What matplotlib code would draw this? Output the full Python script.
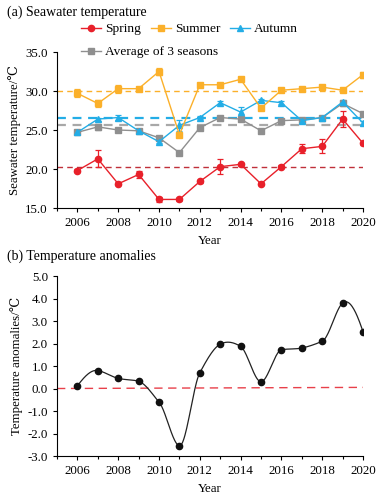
import numpy as np
import matplotlib
matplotlib.use('Agg')
import matplotlib.pyplot as plt
from matplotlib.lines import Line2D
from matplotlib.ticker import MultipleLocator, FormatStrFormatter

plt.rcParams['font.family'] = ['Liberation Serif', 'DejaVu Serif', 'Noto Sans CJK SC']
plt.rcParams['font.size'] = 9.3

# ── Data ──────────────────────────────────────────────────────────────────────
years = np.arange(2006, 2021)

spring = [19.8, 21.3, 18.1, 19.3, 16.1, 16.1, 18.4, 20.3, 20.6, 18.1, 20.3, 22.6, 22.9, 26.4, 23.3]
spring_err = [0.2, 1.1, 0.2, 0.5, 0.3, 0.2, 0.2, 1.0, 0.2, 0.2, 0.2, 0.6, 0.9, 1.0, 0.2]
summer = [29.7, 28.4, 30.3, 30.3, 32.5, 24.4, 30.8, 30.8, 31.5, 27.8, 30.1, 30.3, 30.5, 30.1, 32.1]
summer_err = [0.5, 0.4, 0.5, 0.2, 0.5, 0.3, 0.2, 0.2, 0.2, 0.2, 0.2, 0.2, 0.2, 0.2, 0.4]
autumn = [24.7, 26.4, 26.6, 24.9, 23.5, 25.6, 26.6, 28.5, 27.3, 28.8, 28.5, 26.2, 26.6, 28.6, 25.9]
autumn_err = [0.2, 0.2, 0.3, 0.2, 0.2, 0.7, 0.2, 0.2, 0.7, 0.2, 0.2, 0.2, 0.2, 0.3, 0.2]
average = [24.7, 25.4, 25.0, 24.9, 24.0, 22.1, 25.3, 26.6, 26.4, 24.9, 26.2, 26.3, 26.6, 28.4, 27.1]
average_err = [0.2, 0.4, 0.2, 0.2, 0.2, 0.2, 0.2, 0.2, 0.2, 0.2, 0.2, 0.2, 0.2, 0.3, 0.2]

means = {'spring': 20.3, 'summer': 30.0, 'autumn': 26.6, 'average': 25.6}

anomaly = [0.12, 0.8, 0.45, 0.32, -0.6, -2.55, 0.7, 1.97, 1.87, 0.3, 1.72, 1.8, 2.1, 3.8, 2.52]

c_spring = '#e8202a'
c_summer = '#fbb02a'
c_autumn = '#23ade6'
c_avg = '#8f8f8f'


def akima_curve(x, y, n=500):
    # Akima spline, only for drawing the smoothed connecting line
    x = np.asarray(x, float)
    y = np.asarray(y, float)
    m = np.diff(y) / np.diff(x)
    mm = np.concatenate([[3 * m[0] - 2 * m[1], 2 * m[0] - m[1]], m,
                         [2 * m[-1] - m[-2], 3 * m[-1] - 2 * m[-2]]])
    t = np.zeros(len(x))
    for i in range(len(x)):
        m0, m1, m2, m3 = mm[i], mm[i + 1], mm[i + 2], mm[i + 3]
        w1, w2 = abs(m3 - m2), abs(m1 - m0)
        t[i] = (m1 + m2) / 2 if w1 + w2 == 0 else (w1 * m1 + w2 * m2) / (w1 + w2)
    xs = np.linspace(x[0], x[-1], n)
    idx = np.clip(np.searchsorted(x, xs) - 1, 0, len(x) - 2)
    h = x[idx + 1] - x[idx]
    s = (xs - x[idx]) / h
    h00 = 2 * s**3 - 3 * s**2 + 1
    h10 = s**3 - 2 * s**2 + s
    h01 = -2 * s**3 + 3 * s**2
    h11 = s**3 - s**2
    ys = h00 * y[idx] + h10 * h * t[idx] + h01 * y[idx + 1] + h11 * h * t[idx + 1]
    return xs, ys


fig = plt.figure(figsize=(3.87, 5.01), dpi=100)
ax1 = fig.add_axes([0.1473, 0.5848, 0.7907, 0.3114])
ax2 = fig.add_axes([0.1473, 0.0898, 0.7907, 0.3593])

# ── (a) Seawater temperature ────────────────────────────────────────────────
ax1.hlines(means['summer'], 2005, 2020, colors=c_summer, linestyles=(0, (4, 3)), lw=1.0)
ax1.hlines(means['autumn'], 2005, 2020, colors=c_autumn, linestyles=(0, (4, 3)), lw=1.6)
ax1.hlines(means['average'], 2005, 2020, colors='#a8a8a8', linestyles=(0, (4, 3)), lw=1.6)
ax1.hlines(means['spring'], 2005, 2020, colors='#c0303a', linestyles=(0, (4, 3)), lw=1.0)

kw = dict(lw=1.0, ms=4.5, capsize=2, elinewidth=0.9, capthick=0.9)
ax1.errorbar(years, average, yerr=average_err, color=c_avg, marker='s', **kw)
ax1.errorbar(years, autumn, yerr=autumn_err, color=c_autumn, marker='^', **kw)
ax1.errorbar(years, summer, yerr=summer_err, color=c_summer, marker='s', **kw)
ax1.errorbar(years, spring, yerr=spring_err, color=c_spring, marker='o', **kw)

ax1.set_xlim(2005, 2020)
ax1.set_ylim(15, 35)
ax1.yaxis.set_major_locator(MultipleLocator(5))
ax1.yaxis.set_major_formatter(FormatStrFormatter('%.1f'))
ax1.set_ylabel('Seawater temperature/℃', labelpad=3)
ax1.set_xlabel('Year', labelpad=4)
fig.text(7 / 387, 1 - 12 / 501, '(a) Seawater temperature', fontsize=10, va='center')

def proxy(color, marker):
    return Line2D([], [], color=color, marker=marker, lw=1.0, ms=4.5)

leg_kw = dict(frameon=False, handlelength=1.5, handletextpad=0.3, fontsize=9.6,
              borderpad=0, borderaxespad=0, loc='center left')
leg1 = fig.legend([proxy(c_spring, 'o'), proxy(c_summer, 's'), proxy(c_autumn, '^')],
                  ['Spring', 'Summer', 'Autumn'], ncol=3, columnspacing=0.75,
                  bbox_to_anchor=(81 / 387, 1 - 29 / 501), **leg_kw)
leg2 = fig.legend([proxy(c_avg, 's')], ['Average of 3 seasons'],
                  bbox_to_anchor=(81 / 387, 1 - 52 / 501), **leg_kw)

# ── (b) Temperature anomalies ───────────────────────────────────────────────
xs, ys = akima_curve(years, anomaly)
ax2.plot([2005, 2020], [0, 0.05], color='#e8404a', ls=(0, (6, 4)), lw=1.0)
ax2.plot(xs, ys, color='#222222', lw=0.9)
ax2.plot(years, anomaly, 'o', color='#111111', ms=4.5)

ax2.set_xlim(2005, 2020)
ax2.set_ylim(-3, 5)
ax2.yaxis.set_major_locator(MultipleLocator(1))
ax2.yaxis.set_major_formatter(FormatStrFormatter('%.1f'))
ax2.set_ylabel('Temperature anomalies/℃', labelpad=3)
ax2.set_xlabel('Year', labelpad=4)
fig.text(7 / 387, 1 - 256 / 501, '(b) Temperature anomalies', fontsize=10, va='center')

for ax in (ax1, ax2):
    ax.spines['top'].set_visible(False)
    ax.spines['right'].set_visible(False)
    ax.xaxis.set_major_locator(MultipleLocator(2))
    ax.xaxis.set_minor_locator(MultipleLocator(1))
    ax.tick_params(direction='out', length=3, width=0.8, labelsize=9.3)
    ax.tick_params(which='minor', direction='out', length=2, width=0.8)

fig.savefig('out.png', dpi=100)
